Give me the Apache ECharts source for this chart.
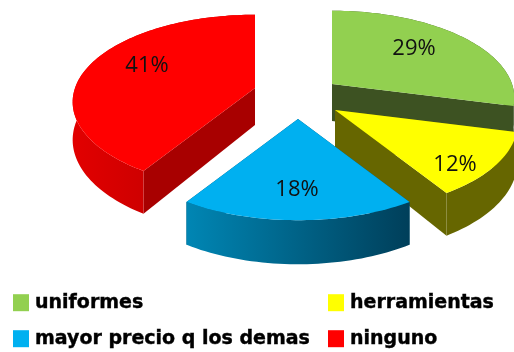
<!DOCTYPE html>
<html><head><meta charset="utf-8">
<script src="https://cdn.jsdelivr.net/npm/echarts@6/dist/echarts.min.js"></script>
<style>html,body{margin:0;padding:0;background:#fff}#c{width:514px;height:352px}</style>
</head><body><div id="c"></div>
<script>
const categories = ['uniformes', 'herramientas', 'mayor precio q los demas', 'ninguno'];
const values = [29, 12, 18, 41];
const topColors = ['#92d050', '#ffff00', '#00b0f0', '#ff0000'];
const cutColors = ['#3d5222', '#666600', '#00506e', '#a80000'];
const rimFrom = ['#3d5222', '#666600', '#0086b4', '#e20000'];
const rimTo = ['#3d5222', '#666600', '#003f5a', '#b00000'];
const apexes = [[332, 84], [335, 110], [298, 119], [255, 88]];
const labelOffsets = [[82, -35], [120, 55], [-1, 71], [-108, -22]];
const legendSpots = [[13, 293], [328, 293], [13, 329], [328, 329]];
const stacking = [2, 3, 4, 1];

const R = 180, K = 85, C = 0.16, H = 37;
const total = values.reduce((a, b) => a + b, 0);
function project(apex, deg) {
  const t = deg * Math.PI / 180, X = Math.sin(t), Y = Math.cos(t), s = 1 / (1 + C * Y);
  return { x: apex[0] + R * X * s, y: apex[1] - K * Y * s, h: H * s };
}
function sliceRenderer(i) {
  const before = values.slice(0, i).reduce((a, b) => a + b, 0);
  return function (params, api) {
    const v = api.value(0);
    const a0 = before / total * 360, a1 = (before + v) / total * 360;
    const apex = apexes[i];
    const arc = [];
    for (let d = a0; d < a1; d += 1.5) arc.push(project(apex, d));
    arc.push(project(apex, a1));
    const first = arc[0], last = arc[arc.length - 1];
    const quad = p => [apex, [p.x, p.y], [p.x, p.y + p.h], [apex[0], apex[1] + H]];
    const rim = arc.map(p => [p.x, p.y]).concat(arc.slice().reverse().map(p => [p.x, p.y + p.h]));
    const top = [apex].concat(arc.map(p => [p.x, p.y]));
    return {
      type: 'group',
      children: [
        { type: 'polygon', shape: { points: quad(first) }, style: { fill: cutColors[i] } },
        { type: 'polygon', shape: { points: quad(last) }, style: { fill: cutColors[i] } },
        { type: 'polygon', shape: { points: rim }, style: {
          fill: new echarts.graphic.LinearGradient(0, 0, 1, 0, [
            { offset: 0, color: rimFrom[i] }, { offset: 1, color: rimTo[i] }]) } },
        { type: 'polygon', shape: { points: top }, style: { fill: topColors[i] } },
        { type: 'text', style: {
          x: apex[0] + labelOffsets[i][0], y: apex[1] + labelOffsets[i][1],
          text: v + '%', fill: '#111', align: 'center', verticalAlign: 'middle',
          font: '22px "Open Sans"' } }
      ]
    };
  };
}
const option = {
  animation: false,
  backgroundColor: '#fff',
  legend: categories.map((c, i) => ({
    data: [c], left: legendSpots[i][0], top: legendSpots[i][1], padding: 0,
    icon: 'rect', itemWidth: 16, itemHeight: 17, itemGap: 0, selectedMode: false,
    textStyle: { color: '#000', fontSize: 19, fontWeight: 'bold', fontFamily: 'DejaVu Sans',
      textBorderColor: '#000', textBorderWidth: 0.4, padding: [0, 0, 0, 1] }
  })),
  series: categories.map((c, i) => ({
    type: 'custom', name: c, coordinateSystem: 'none', z: stacking[i],
    itemStyle: { color: topColors[i] }, silent: true, clip: false,
    data: [[values[i]]], renderItem: sliceRenderer(i)
  }))
};
echarts.init(document.getElementById('c'), null, { renderer: 'canvas' }).setOption(option);
</script></body></html>
